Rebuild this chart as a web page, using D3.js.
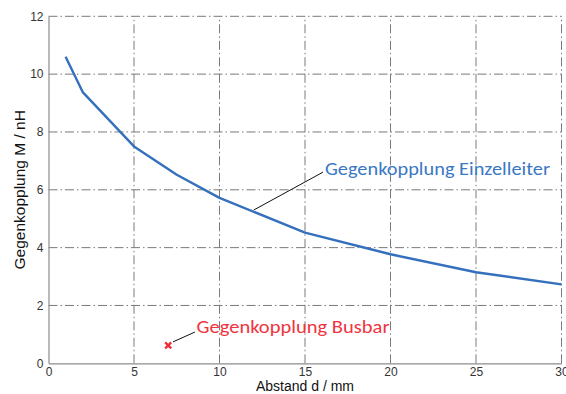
<!DOCTYPE html>
<html><head><meta charset="utf-8">
<script src="https://cdn.jsdelivr.net/npm/d3@7"></script>
<style>body{margin:0;background:#fff}svg{display:block}</style>
</head><body>
<svg id="c" width="566" height="394"></svg>
<script>
const distances = [1, 2, 5, 7.5, 10, 15, 20, 25, 30];
const couplingSingle = [10.6, 9.38, 7.5, 6.52, 5.72, 4.52, 3.77, 3.15, 2.73];
const busbarPoint = [7, 0.62];
const xTicks = [0, 5, 10, 15, 20, 25, 30];
const yTicks = [0, 2, 4, 6, 8, 10, 12];
const labelSingle = "Gegenkopplung Einzelleiter";
const labelBusbar = "Gegenkopplung Busbar";
const xTitle = "Abstand d / mm";
const yTitle = "Gegenkopplung M / nH";

const svg = d3.select("#c");
const x = d3.scaleLinear().domain([0, 30]).range([48.5, 561.5]);
const y = d3.scaleLinear().domain([0, 12]).range([363.3, 16.3]);
const grid = "#7a7a7a";
const dash = "9,3,1.5,3";

// grid lines
svg.append("g").selectAll("line").data(xTicks.filter(d => d > 0)).join("line")
  .attr("x1", d => x(d)).attr("x2", d => x(d)).attr("y1", y(0)).attr("y2", y(12))
  .attr("stroke", grid).attr("stroke-width", 1).attr("stroke-dasharray", dash);
svg.append("g").selectAll("line").data(yTicks.filter(d => d > 0)).join("line")
  .attr("x1", x(0)).attr("x2", x(30)).attr("y1", d => y(d)).attr("y2", d => y(d))
  .attr("stroke", grid).attr("stroke-width", 1).attr("stroke-dasharray", dash);

// axes
const xAxis = svg.append("g").attr("transform", `translate(0,${y(0)})`)
  .call(d3.axisBottom(x).tickValues(xTicks).tickSize(0).tickPadding(4));
const yAxis = svg.append("g").attr("transform", `translate(${x(0)},0)`)
  .call(d3.axisLeft(y).tickValues(yTicks).tickSize(0).tickPadding(5));
[xAxis, yAxis].forEach(a => {
  a.select(".domain").attr("stroke", "#8c8c8c").attr("stroke-width", 1.2);
  a.selectAll("text").attr("font-family", "Liberation Sans, Arial, sans-serif")
    .attr("font-size", 12).attr("fill", "#333");
});

// curve
svg.append("path")
  .datum(distances.map((d, i) => [d, couplingSingle[i]]))
  .attr("fill", "none").attr("stroke", "#3470bd").attr("stroke-width", 2.4)
  .attr("stroke-linejoin", "round")
  .attr("d", d3.line().x(d => x(d[0])).y(d => y(d[1])));

// busbar marker
const bx = x(busbarPoint[0]), by = y(busbarPoint[1]);
svg.append("path").attr("d", `M${bx-3},${by-3}L${bx+3},${by+3}M${bx-3},${by+3}L${bx+3},${by-3}`)
  .attr("stroke", "#ee2d38").attr("stroke-width", 2.2);

// annotations
const annFont = "Carlito, Lato, 'Open Sans', sans-serif";
svg.append("line").attr("x1", x(12)).attr("y1", y(5.3)).attr("x2", x(16.05)).attr("y2", y(6.61))
  .attr("stroke", "#111").attr("stroke-width", 1);
svg.append("text").attr("x", x(16.17)).attr("y", y(6.5))
  .attr("font-family", annFont).attr("font-size", 19).attr("fill", "#3a78c4")
  .attr("textLength", 225).attr("lengthAdjust", "spacingAndGlyphs").text(labelSingle);

svg.append("line").attr("x1", x(7.28)).attr("y1", y(0.74)).attr("x2", x(8.56)).attr("y2", y(1.08))
  .attr("stroke", "#111").attr("stroke-width", 1);
svg.append("text").attr("x", x(8.66)).attr("y", y(1.04))
  .attr("font-family", annFont).attr("font-size", 19).attr("fill", "#f0343e")
  .attr("textLength", 193).attr("lengthAdjust", "spacingAndGlyphs").text(labelBusbar);

// axis titles
svg.append("text").attr("x", x(15)).attr("y", 391)
  .attr("text-anchor", "middle").attr("font-family", "Liberation Sans, Arial, sans-serif")
  .attr("font-size", 14).attr("fill", "#111").text(xTitle);
svg.append("text").attr("transform", `translate(25,${y(6)}) rotate(-90)`)
  .attr("text-anchor", "middle").attr("font-family", "Liberation Sans, Arial, sans-serif")
  .attr("font-size", 15.5).attr("fill", "#111").text(yTitle);
</script>
</body></html>
